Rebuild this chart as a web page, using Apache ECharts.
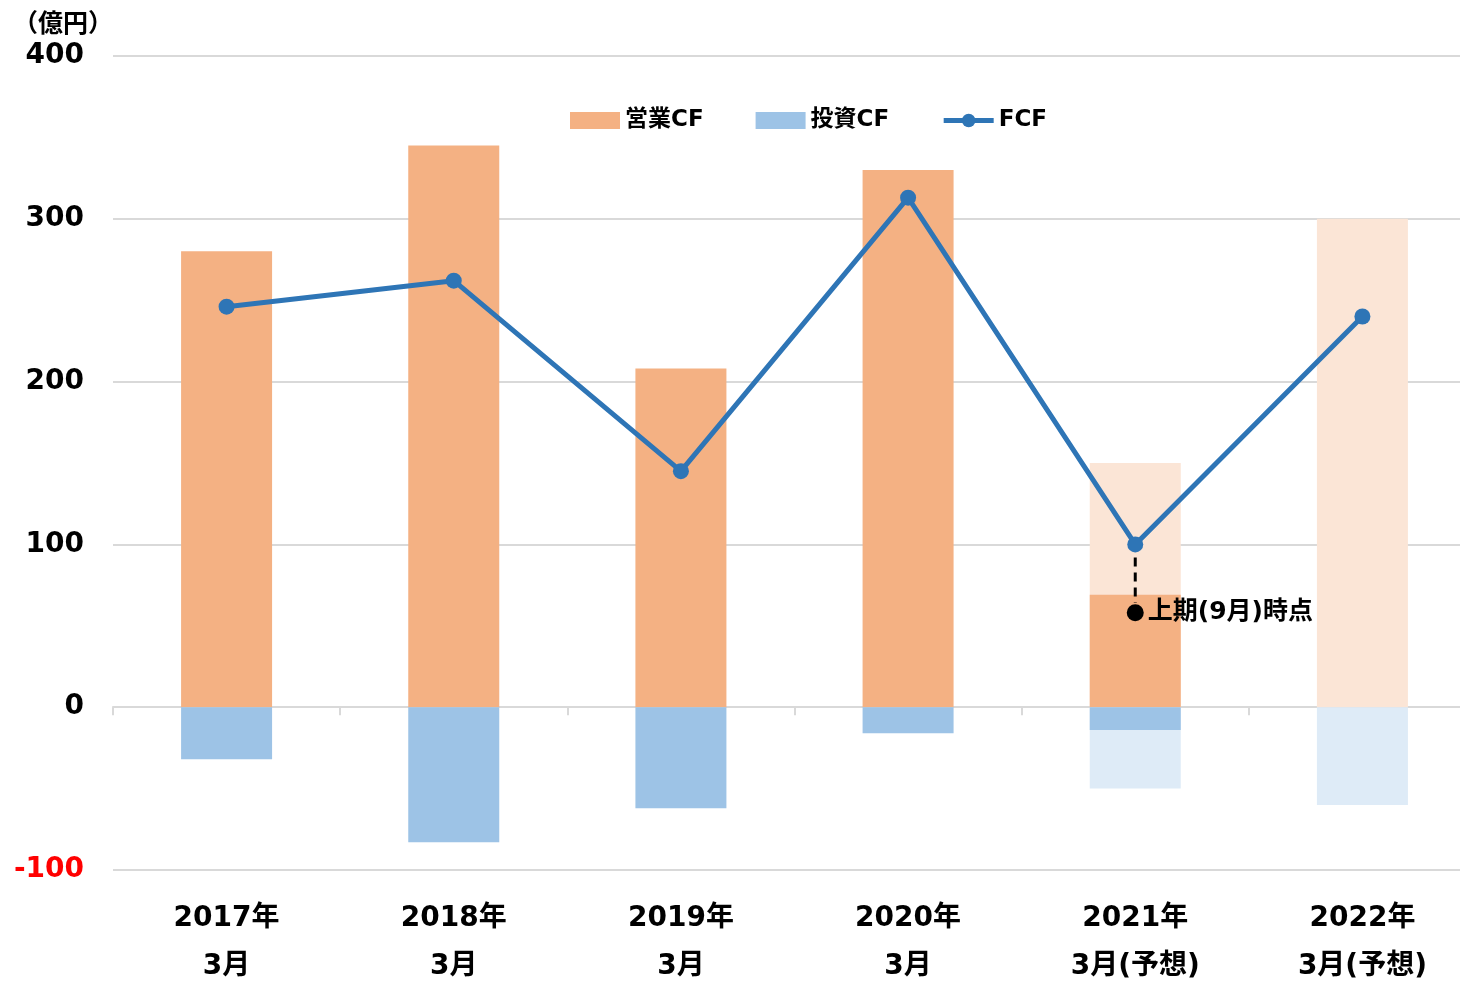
<!DOCTYPE html>
<html>
<head>
<meta charset="utf-8">
<script src="https://cdn.jsdelivr.net/npm/echarts@6/dist/echarts.min.js"></script>
<style>
html,body{margin:0;padding:0;background:#fff;}
#chart{width:1460px;height:981px;}
</style>
</head>
<body>
<div id="chart"></div>
<script>
const categories = ['2017年\n3月', '2018年\n3月', '2019年\n3月', '2020年\n3月', '2021年\n3月(予想)', '2022年\n3月(予想)'];
const operatingCF = [280, 345, 208, 330, 69, null];
const operatingCFForecast = [null, null, null, null, 150, 300];
const investingCF = [-32, -83, -62, -16, -14, null];
const investingCFForecast = [null, null, null, null, -50, -60];
const freeCF = [246, 262, 145, 313, 100, 240];
const halfYearIndex = 4;
const halfYearFCF = 58;
const halfYearLabel = '上期(9月)時点';
const unitLabel = '（億円）';
const yMin = -100, yMax = 400, yStep = 100;

const FONT = '"DejaVu Sans", "Noto Sans CJK JP", sans-serif';
const chart = echarts.init(document.getElementById('chart'));
const option = {
  animation: false,
  backgroundColor: '#fff',
  textStyle: { fontFamily: FONT },
  title: {
    text: unitLabel, left: 8, top: 8,
    textStyle: { fontFamily: FONT, fontSize: 25, fontWeight: 'bold', color: '#000' }
  },
  legend: {
    data: [
      { name: '営業CF', icon: 'rect' },
      { name: '投資CF', icon: 'rect' },
      { name: 'FCF', lineStyle: { width: 5, color: '#2E75B6' }, itemStyle: { color: '#2E75B6' } }
    ],
    left: 565, top: 104,
    itemWidth: 50, itemHeight: 17, itemGap: 52,
    textStyle: { fontFamily: FONT, fontSize: 23, fontWeight: 'bold', color: '#000', padding: [0, 0, 0, 0] }
  },
  grid: { left: 113, right: -16, top: 56, bottom: 111, outerBoundsMode: 'none', containLabel: false },
  xAxis: [
    {
      type: 'category', data: categories, position: 'bottom',
      axisLine: { show: false, onZero: false }, axisTick: { show: false },
      axisLabel: { margin: 25, fontFamily: FONT, fontSize: 28, fontWeight: 'bold', color: '#000', lineHeight: 48, interval: 0 }
    },
    {
      type: 'category', data: categories, position: 'bottom',
      axisLine: { show: true, onZero: true, lineStyle: { color: '#d9d9d9', width: 2 } },
      axisTick: { show: true, length: 8, lineStyle: { color: '#d9d9d9', width: 2 } },
      axisLabel: { show: false }
    }
  ],
  yAxis: {
    type: 'value', min: yMin, max: yMax, interval: yStep,
    axisLine: { show: false }, axisTick: { show: false },
    splitLine: { lineStyle: { color: '#d9d9d9', width: 2 } },
    axisLabel: {
      margin: 29, fontFamily: FONT, fontSize: 28, fontWeight: 'bold',
      color: function (v) { return v < 0 ? '#ff0000' : '#000'; }
    }
  },
  series: [
    { name: '営業CF予想', type: 'bar', data: operatingCFForecast, barWidth: 91, barGap: '-100%',
      itemStyle: { color: '#FBE5D6' }, z: 1 },
    { name: '投資CF予想', type: 'bar', data: investingCFForecast, barWidth: 91, barGap: '-100%',
      itemStyle: { color: '#DEEBF7' }, z: 1 },
    { name: '営業CF', type: 'bar', data: operatingCF, barWidth: 91, barGap: '-100%',
      itemStyle: { color: '#F4B183' }, z: 2 },
    { name: '投資CF', type: 'bar', data: investingCF, barWidth: 91, barGap: '-100%',
      itemStyle: { color: '#9DC3E6' }, z: 2 },
    { name: 'H1dash', type: 'line',
      data: [[halfYearIndex, freeCF[halfYearIndex] - 8], [halfYearIndex, halfYearFCF + 6]],
      symbol: 'none', lineStyle: { color: '#000', width: 3, type: [9, 6] }, z: 3, silent: true },
    { name: 'FCF', type: 'line', data: freeCF, symbol: 'circle', symbolSize: 16,
      lineStyle: { color: '#2E75B6', width: 5 }, itemStyle: { color: '#2E75B6' }, z: 5 },
    { name: 'H1', type: 'scatter', data: [[halfYearIndex, halfYearFCF]], symbolSize: 17,
      itemStyle: { color: '#000', opacity: 1 }, z: 6,
      label: { show: true, position: 'right', distance: 4, formatter: halfYearLabel,
        fontFamily: FONT, fontSize: 25, fontWeight: 'bold', color: '#000' } }
  ]
};
chart.setOption(option);
</script>
</body>
</html>
